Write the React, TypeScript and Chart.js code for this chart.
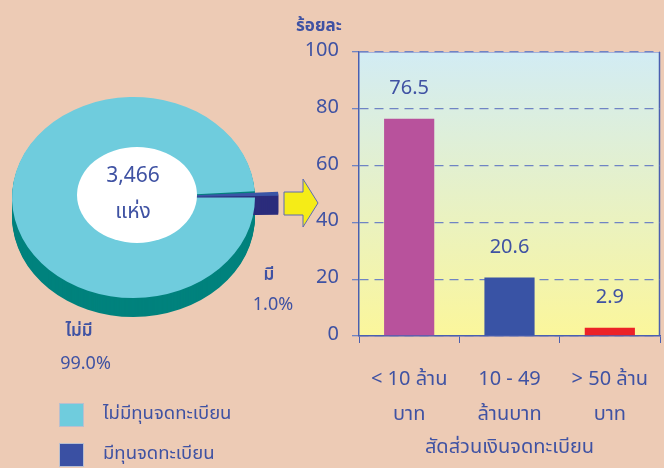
import React, { useEffect, useRef } from 'react';
import { Chart, ArcElement, registerables } from 'chart.js';

Chart.register(...registerables);

// ---------- data ----------
const pieLabels = ['ไม่มีทุนจดทะเบียน', 'มีทุนจดทะเบียน'];
const pieShortLabels = ['ไม่มี', 'มี'];
const pieValues = [99.0, 1.0];
const pieTotalText = '3,466';
const pieUnitText = 'แห่ง';

const barCategories = [
  ['< 10 ล้าน', 'บาท'],
  ['10 - 49', 'ล้านบาท'],
  ['> 50 ล้าน', 'บาท'],
];
const barValues = [76.5, 20.6, 2.9];
const yTickValues = [0, 20, 40, 60, 80, 100];
const yUnitText = 'ร้อยละ';
const xTitleText = 'สัดส่วนเงินจดทะเบียน';

// ---------- styles ----------
const FONT = '"Noto Sans Thai", "Noto Sans", "DejaVu Sans", sans-serif';
const TXT = '#3F52A3';
const BG = '#EDCBB5';
const pieTopColors = ['#6FCCDD', '#3A55A6'];
const pieSideColors = ['#00827D', '#2B2C7C'];
const legendColors = ['#6FCCDD', '#3A50A3'];
const barColors = ['#B8529C', '#3953A5', '#EC2227'];
const AXIS = '#4A5FB0';
const SY = 0.827;
const DEPTH = 19;

const barBgPlugin = {
  id: 'barBg',
  beforeDraw(chart: any) {
    const { ctx, chartArea: a } = chart;
    ctx.save();
    const g = ctx.createLinearGradient(0, a.top, 0, a.bottom);
    g.addColorStop(0, '#D2ECF4');
    g.addColorStop(1, '#FBF69B');
    ctx.fillStyle = g;
    ctx.fillRect(a.left, a.top, a.right - a.left, a.bottom - a.top);
    ctx.lineWidth = 1;
    ctx.strokeStyle = '#A3B0DA';
    ctx.beginPath();
    ctx.moveTo(a.left, a.top + 0.5);
    ctx.lineTo(a.right, a.top + 0.5);
    ctx.stroke();
    ctx.lineWidth = 1.5;
    ctx.strokeStyle = AXIS;
    ctx.beginPath();
    ctx.moveTo(a.right - 0.5, a.top);
    ctx.lineTo(a.right - 0.5, a.bottom);
    ctx.stroke();
    ctx.restore();
  },
  afterDatasetsDraw(chart: any) {
    const { ctx } = chart;
    const meta = chart.getDatasetMeta(0);
    const yScale = chart.scales.y;
    const base = yScale.getPixelForValue(0);
    ctx.save();
    ctx.fillStyle = TXT;
    ctx.font = `20px ${FONT}`;
    ctx.textAlign = 'center';
    ctx.textBaseline = 'middle';
    meta.data.forEach((el: any, i: number) => {
      const y = Math.min(el.y - 29, base - 26);
      ctx.fillText(barValues[i].toFixed(1), el.x, y);
    });
    ctx.font = `bold 17px ${FONT}`;
    ctx.textAlign = 'left';
    ctx.textBaseline = 'alphabetic';
    ctx.fillText(yUnitText, 296, 31);
    ctx.restore();
  },
};

const pie3dPlugin = {
  id: 'pie3d',
  beforeDatasetsDraw(chart: any) {
    const ctx = chart.ctx;
    const meta = chart.getDatasetMeta(0);
    const cx = meta.data[0].x;
    const cy = meta.data[0].y;
    meta.data.forEach((el: any, i: number) => {
      const fake = Object.create(el);
      fake.options = { ...el.options, backgroundColor: pieSideColors[i], borderColor: pieSideColors[i] };
      for (let d = DEPTH; d >= 1; d--) {
        ctx.save();
        ctx.translate(0, d);
        ctx.translate(cx, cy);
        ctx.scale(1, SY);
        ctx.translate(-cx, -cy);
        ArcElement.prototype.draw.call(fake, ctx);
        ctx.restore();
      }
    });
    ctx.save();
    ctx.translate(cx, cy);
    ctx.scale(1, SY);
    ctx.translate(-cx, -cy);
  },
  afterDatasetsDraw(chart: any) {
    const ctx = chart.ctx;
    ctx.restore();
    const meta = chart.getDatasetMeta(0);
    const cx = meta.data[0].x;
    const cy = meta.data[0].y;
    ctx.save();
    // white centre
    ctx.fillStyle = '#FFFFFF';
    ctx.beginPath();
    ctx.ellipse(cx + 3.5, cy - 2.5, 60, 48, 0, 0, Math.PI * 2);
    ctx.fill();
    ctx.fillStyle = TXT;
    ctx.textAlign = 'center';
    ctx.textBaseline = 'alphabetic';
    ctx.font = `21px ${FONT}`;
    ctx.fillText(pieTotalText, cx - 0.5, cy - 15.5);
    ctx.fillText(pieUnitText, cx - 0.5, cy + 20.5);
    // arrow
    ctx.beginPath();
    ctx.moveTo(284, 192);
    ctx.lineTo(303, 192);
    ctx.lineTo(303, 179);
    ctx.lineTo(318, 203);
    ctx.lineTo(303, 227);
    ctx.lineTo(303, 215);
    ctx.lineTo(284, 215);
    ctx.closePath();
    ctx.fillStyle = '#F5EC17';
    ctx.fill();
    ctx.lineWidth = 1;
    ctx.strokeStyle = '#5A6BB5';
    ctx.stroke();
    // slice labels
    ctx.fillStyle = TXT;
    ctx.textBaseline = 'middle';
    const lab = [
      { x: 79, y: 333, px: 85.5, py: 365 },
      { x: 269, y: 277, px: 273, py: 306 },
    ];
    pieShortLabels.forEach((t, i) => {
      ctx.font = `600 17px ${FONT}`;
      ctx.fillText(t, lab[i].x, lab[i].y);
      ctx.font = `18px ${FONT}`;
      ctx.fillText(pieValues[i].toFixed(1) + '%', lab[i].px, lab[i].py);
    });
    // legend
    ctx.textAlign = 'left';
    ctx.font = `18.5px ${FONT}`;
    pieLabels.forEach((t, i) => {
      const top = 403 + i * 40;
      ctx.fillStyle = legendColors[i];
      ctx.fillRect(59, top, 25, 24);
      ctx.strokeStyle = '#B9BFCF';
      ctx.lineWidth = 1;
      ctx.strokeRect(59.5, top + 0.5, 24, 23);
      ctx.fillStyle = TXT;
      ctx.fillText(t, 103, top + 12.5);
    });
    ctx.restore();
  },
};

export default function App() {
  const barRef = useRef<HTMLCanvasElement>(null);
  const pieRef = useRef<HTMLCanvasElement>(null);

  useEffect(() => {
    document.body.style.margin = '0';
    document.body.style.background = BG;
    const bar = new Chart(barRef.current as HTMLCanvasElement, {
      type: 'bar',
      data: {
        labels: barCategories as any,
        datasets: [
          {
            data: barValues,
            backgroundColor: barColors,
            borderWidth: 0,
            categoryPercentage: 1,
            barPercentage: 0.5,
          },
        ],
      },
      options: {
        animation: false,
        responsive: false,
        events: [],
        layout: { padding: { left: 0, right: 4, top: 52, bottom: 0 } },
        plugins: { legend: { display: false }, tooltip: { enabled: false } },
        scales: {
          x: {
            grid: { display: true, drawOnChartArea: false, drawTicks: true, tickLength: 7, color: AXIS, offset: true },
            border: { display: true, color: AXIS, width: 1.5 },
            ticks: {
              color: TXT,
              font: { family: FONT, size: 20, lineHeight: 1.75 },
              padding: 20.5,
              maxRotation: 0,
              autoSkip: false,
            },
            title: {
              display: true,
              text: xTitleText,
              color: TXT,
              font: { family: FONT, size: 20, lineHeight: 1.2 },
              padding: { top: 0, bottom: 7 },
            },
            afterFit: (s: any) => {
              s.height = 132;
              s.paddingLeft = 0;
              s.paddingRight = 0;
            },
          },
          y: {
            min: 0,
            max: 100,
            afterBuildTicks: (s: any) => {
              s.ticks = yTickValues.map((v) => ({ value: v }));
            },
            grid: { color: '#6F84C4', lineWidth: 1.3, tickLength: 7, drawTicks: true },
            border: { display: true, color: AXIS, width: 1.5, dash: [9, 6] },
            ticks: { color: TXT, font: { family: FONT, size: 20 }, padding: 13 },
            afterFit: (s: any) => {
              s.width = 359;
              s.paddingTop = 0;
              s.paddingBottom = 0;
            },
          },
        },
      },
      plugins: [barBgPlugin],
    });

    const pie = new Chart(pieRef.current as HTMLCanvasElement, {
      type: 'pie',
      data: {
        labels: pieLabels,
        datasets: [
          {
            data: pieValues,
            backgroundColor: pieTopColors,
            borderWidth: 0,
            offset: [0, 48],
          },
        ],
      },
      options: {
        animation: false,
        responsive: false,
        events: [],
        rotation: 90,
        radius: 121.5,
        layout: { padding: { left: 0, right: 397, top: 0, bottom: 73 } },
        plugins: { legend: { display: false }, tooltip: { enabled: false } },
      } as any,
      plugins: [pie3dPlugin],
    });

    return () => {
      bar.destroy();
      pie.destroy();
    };
  }, []);

  return (
    <div style={{ position: 'relative', width: 664, height: 468, background: BG, overflow: 'hidden' }}>
      <canvas ref={barRef} width={664} height={468} style={{ position: 'absolute', left: 0, top: 0 }} />
      <canvas ref={pieRef} width={664} height={468} style={{ position: 'absolute', left: 0, top: 0 }} />
    </div>
  );
}
